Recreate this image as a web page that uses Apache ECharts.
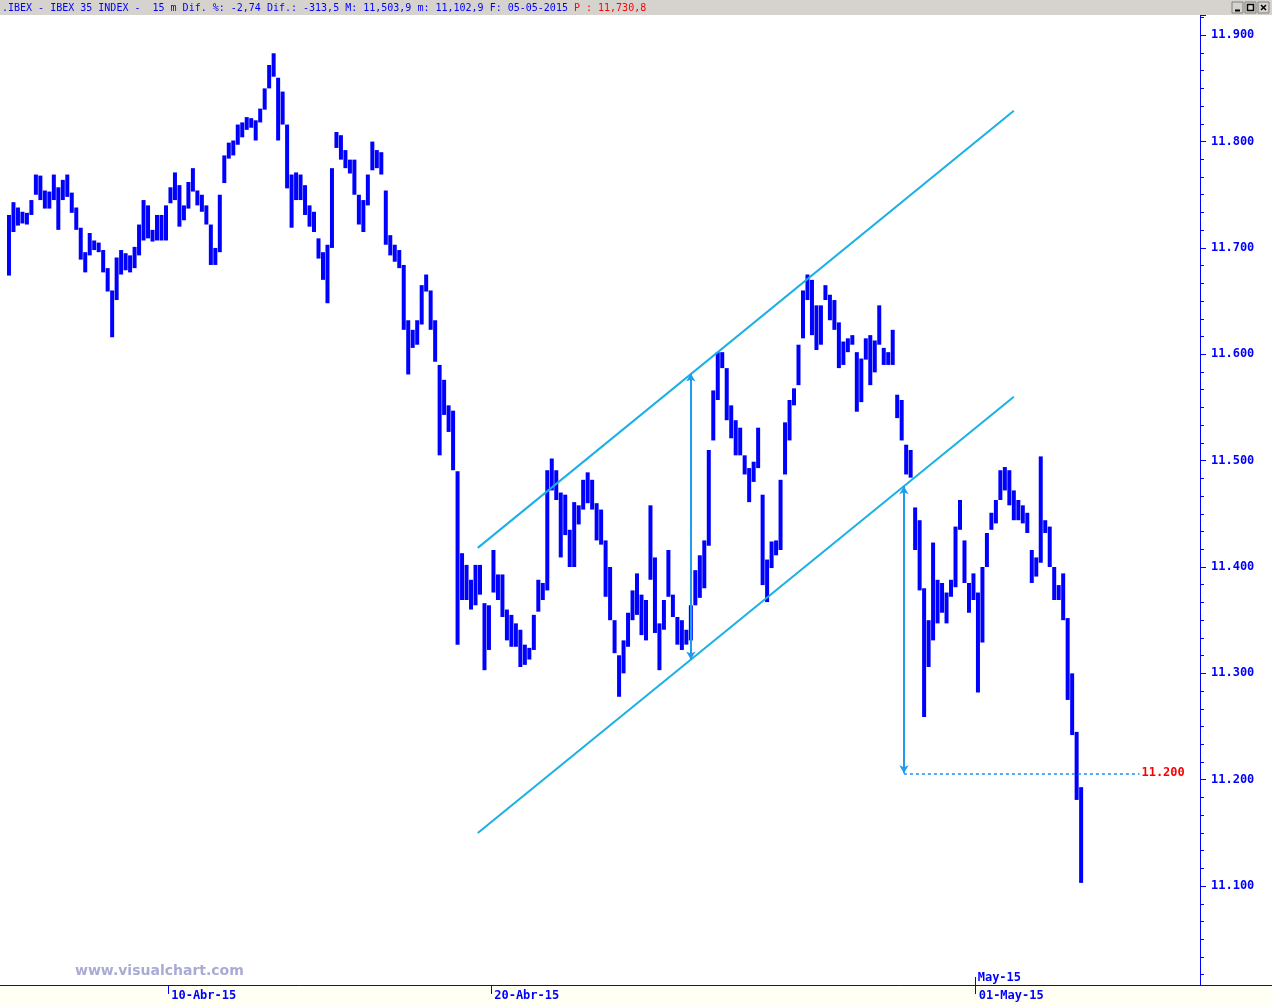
<!DOCTYPE html>
<html>
<head>
<meta charset="utf-8">
<script src="https://cdn.jsdelivr.net/npm/echarts@6/dist/echarts.min.js"></script>
<style>
html,body{margin:0;padding:0;background:#ffffff;}
#chart{width:1272px;height:1006px;}
</style>
</head>
<body>
<div id="chart"></div>
<script>
// ---- DATA ----
const days = ['07-Abr-15','08-Abr-15','09-Abr-15','10-Abr-15','13-Abr-15','14-Abr-15','15-Abr-15','16-Abr-15','17-Abr-15',
  '20-Abr-15','21-Abr-15','22-Abr-15','23-Abr-15','24-Abr-15','27-Abr-15','28-Abr-15','29-Abr-15','30-Abr-15','04-May-15','05-May-15'];
const SLOTS_PER_DAY = 12;

const highs = [
11731,11743,11738,11734,11733,11745,11769,11768,11754,11753,11769,11757,
11764,11769,11752,11738,11719,11696,11714,11707,11705,11698,11681,11660,
11691,11698,11695,11693,11701,11722,11745,11740,11717,11731,11731,11740,
11757,11771,11759,11740,11762,11775,11754,11750,11740,11722,11700,11750,
11787,11799,11801,11816,11818,11823,11822,11820,11831,11850,11872,11883,
11860,11847,11816,11769,11771,11769,11759,11740,11734,11709,11696,11703,
11775,11809,11806,11792,11783,11783,11750,11745,11769,11800,11792,11790,
11754,11712,11703,11698,11684,11632,11623,11632,11665,11675,11660,11632,
11590,11576,11552,11547,11490,11413,11402,11388,11402,11402,11366,11364,
11416,11393,11393,11360,11355,11347,11341,11327,11324,11355,11388,11385,
11491,11502,11491,11470,11468,11435,11461,11458,11482,11489,11482,11460,
11454,11425,11400,11350,11317,11331,11357,11378,11394,11374,11369,11458,
11409,11347,11369,11416,11374,11353,11350,11341,11364,11397,11411,11425,
11510,11566,11602,11602,11587,11552,11538,11531,11505,11493,11499,11531,
11468,11407,11424,11425,11482,11536,11557,11568,11609,11660,11675,11670,
11646,11646,11665,11656,11651,11630,11612,11615,11618,11602,11596,11615,
11618,11613,11646,11606,11602,11623,11562,11557,11515,11510,11456,11444,
11380,11350,11423,11388,11385,11376,11388,11438,11463,11425,11385,11394,
11376,11400,11432,11451,11463,11491,11494,11491,11472,11463,11458,11451,
11416,11409,11504,11444,11438,11400,11383,11394,11352,11300,11245,11193
];
const lows = [
11674,11715,11721,11723,11722,11731,11750,11745,11737,11737,11745,11717,
11745,11748,11733,11717,11689,11677,11693,11698,11696,11677,11659,11616,
11651,11675,11679,11677,11681,11693,11707,11709,11706,11707,11707,11707,
11742,11745,11720,11726,11737,11753,11740,11734,11722,11684,11684,11696,
11761,11784,11787,11797,11804,11811,11813,11801,11818,11830,11850,11861,
11801,11816,11756,11719,11745,11745,11731,11720,11715,11690,11670,11648,
11700,11794,11783,11775,11770,11750,11722,11715,11740,11773,11775,11769,
11703,11693,11687,11681,11623,11581,11606,11609,11628,11659,11623,11593,
11505,11543,11527,11491,11327,11369,11369,11360,11364,11374,11303,11322,
11376,11369,11353,11331,11325,11325,11306,11308,11313,11322,11358,11369,
11378,11472,11463,11409,11430,11400,11400,11440,11454,11460,11454,11425,
11421,11372,11350,11319,11278,11300,11325,11350,11355,11336,11331,11388,
11338,11303,11341,11372,11353,11327,11322,11327,11331,11364,11371,11380,
11420,11519,11557,11587,11538,11521,11505,11505,11487,11461,11480,11493,
11383,11367,11399,11411,11416,11487,11519,11552,11571,11615,11651,11618,
11604,11609,11651,11632,11623,11587,11590,11602,11609,11546,11555,11595,
11571,11583,11609,11590,11590,11590,11540,11519,11487,11484,11416,11378,
11259,11306,11331,11347,11357,11347,11372,11381,11435,11385,11357,11369,
11282,11329,11400,11435,11441,11463,11472,11458,11444,11444,11441,11432,
11385,11391,11404,11432,11400,11369,11369,11350,11275,11242,11181,11103
];

// date ticks fall on the left edge of a slot
const dateTicks = [ {slot: 36, label: '10-Abr-15'}, {slot: 108, label: '20-Abr-15'}, {slot: 216, label: '01-May-15'} ];
const monthTicks = [ {slot: 216, label: 'May-15'} ];

// channel lines: [slot, value]
const channelUpper = [[104.5, 11418], [224, 11829]];
const channelLower = [[104.5, 11150], [224, 11560]];
// projection arrows: [slot, from, to]
const projArrows = [[152, 11582, 11313], [199.5, 11476, 11206]];
// target level
const targetLevel = { fromSlot: 199.5, toSlot: 252, value: 11206, label: '11.200' };

const headerMain = '.IBEX - IBEX 35 INDEX -  15 m Dif. %: -2,74 Dif.: -313,5 M: 11,503,9 m: 11,102,9 F: 05-05-2015 ';
const headerPrev = 'P : 11,730,8';
const watermark = 'www.visualchart.com';

// ---- BUILD ----
// half-slot category grid: slot centre = 2*slot + 4, slot left edge = 2*slot + 3
const N_CATS = 536;
const cat = s => 2 * s + 4;
const edge = s => 2 * s + 3;
const categories = Array.from({length: N_CATS}, (_, i) => {
  const s = Math.floor((i - 3) / 2);
  const d = Math.floor(s / SLOTS_PER_DAY);
  return (d >= 0 && d < days.length) ? days[d] + ' #' + (i - 3) : 'p' + i;
});
const dateTickMap = new Map(dateTicks.map(t => [edge(t.slot), t.label]));
const monthTickMap = new Map(monthTicks.map(t => [edge(t.slot), t.label]));

const barData = lows.map((lo, j) => [cat(j), lo, highs[j]]);

const BLUE = '#0000ff';
const MONO = '"DejaVu Sans Mono", "Liberation Mono", monospace';

const chart = echarts.init(document.getElementById('chart'), null, {renderer: 'canvas'});

const option = {
  animation: false,
  backgroundColor: '#ffffff',
  grid: { left: 0, right: 72, top: 15, bottom: 21, containLabel: false, outerBoundsMode: 'none' },
  xAxis: [
    {
      type: 'category', data: categories, boundaryGap: false, position: 'bottom', z: 5,
      axisLine: { show: true, lineStyle: { color: BLUE, width: 1 } },
      axisTick: { show: true, length: 9, lineStyle: { color: BLUE }, interval: (i) => dateTickMap.has(i) },
      axisLabel: { show: true, interval: (i) => dateTickMap.has(i), formatter: (v, i) => dateTickMap.get(i) || '',
        color: BLUE, fontFamily: MONO, fontWeight: 'bold', fontSize: 12, align: 'left', margin: 5, padding: [0, 0, 0, 3] },
      splitLine: { show: false }
    },
    {
      type: 'category', data: categories, boundaryGap: false, position: 'bottom', z: 5,
      axisLine: { show: false },
      axisTick: { show: true, inside: true, length: 8, lineStyle: { color: BLUE }, interval: (i) => monthTickMap.has(i) },
      axisLabel: { show: true, inside: true, interval: (i) => monthTickMap.has(i), formatter: (v, i) => monthTickMap.get(i) || '',
        color: BLUE, fontFamily: MONO, fontWeight: 'bold', fontSize: 12, align: 'left', margin: 1, padding: [0, 0, 0, 2] },
      splitLine: { show: false }
    }
  ],
  yAxis: {
    type: 'value', position: 'right', min: 11007, max: 11919, splitNumber: 9, scale: true, z: 5,
    axisLine: { show: true, lineStyle: { color: BLUE, width: 1 } },
    axisTick: { show: true, length: 6, lineStyle: { color: BLUE } },
    minorTick: { show: true, splitNumber: 6, length: 4, lineStyle: { color: BLUE } },
    axisLabel: { show: true, showMinLabel: false, showMaxLabel: false, margin: 11,
      formatter: v => (v / 1000).toFixed(3), color: BLUE, fontFamily: MONO, fontWeight: 'bold', fontSize: 12 },
    splitLine: { show: false }
  },
  series: [
    {
      type: 'custom', name: 'IBEX 15m', xAxisIndex: 0,
      data: barData,
      encode: { x: 0, y: [1, 2] },
      renderItem: function (params, api) {
        const top = api.coord([api.value(0), api.value(2)]);
        const bot = api.coord([api.value(0), api.value(1)]);
        return {
          type: 'rect',
          shape: { x: top[0] - 2, y: top[1], width: 4, height: Math.max(1, bot[1] - top[1]) },
          style: { fill: BLUE }
        };
      },
      z: 2
    },
    {
      type: 'line', name: 'upper', xAxisIndex: 0, symbol: 'none', z: 3,
      data: channelUpper.map(([s, v]) => [cat(s), v]),
      lineStyle: { color: '#1ab0e6', width: 2 },
      markLine: {
        silent: true, animation: false,
        data: [
          ...projArrows.map(([s, a, b]) => [
            { coord: [cat(s), a], symbol: 'arrow', symbolSize: [7, 8], lineStyle: { color: '#1e9cf0', width: 2, type: 'solid' }, label: { show: false } },
            { coord: [cat(s), b], symbol: 'arrow', symbolSize: [7, 8] }
          ]),
          [
            { coord: [cat(targetLevel.fromSlot), targetLevel.value], symbol: 'none',
              lineStyle: { color: '#1a8cff', width: 1.5, type: [3, 3], opacity: 1 },
              label: { show: true, position: 'end', distance: 2, formatter: targetLevel.label, color: '#ff0000',
                fontFamily: MONO, fontWeight: 'bold', fontSize: 12 } },
            { coord: [cat(targetLevel.toSlot), targetLevel.value], symbol: 'none' }
          ]
        ]
      }
    },
    {
      type: 'line', name: 'lower', xAxisIndex: 0, symbol: 'none', z: 3,
      data: channelLower.map(([s, v]) => [cat(s), v]),
      lineStyle: { color: '#1ab0e6', width: 2 }
    }
  ],
  graphic: [
    { type: 'rect', z: -10, shape: { x: 0, y: 986, width: 1272, height: 20 }, style: { fill: '#fffff4' } },
    { type: 'line', z: 10, shape: { x1: 1200, y1: 985.5, x2: 1272, y2: 985.5 }, style: { stroke: BLUE, lineWidth: 1 } },
    { type: 'rect', z: 10, shape: { x: 0, y: 0, width: 1272, height: 15 }, style: { fill: '#d6d3ce' } },
    { type: 'text', z: 11, x: 2, y: 2,
      style: { text: '{m|' + headerMain + '}{p|' + headerPrev + '}',
        rich: { m: { fill: BLUE, fontFamily: MONO, fontSize: 10, lineHeight: 12 }, p: { fill: '#ff0000', fontFamily: MONO, fontSize: 10, lineHeight: 12 } } } },
    // window buttons
    { type: 'rect', z: 11, shape: { x: 1232, y: 2, width: 11, height: 11 }, style: { fill: '#d6d3ce', stroke: '#808080', lineWidth: 1 } },
    { type: 'rect', z: 11, shape: { x: 1245, y: 2, width: 11, height: 11 }, style: { fill: '#d6d3ce', stroke: '#808080', lineWidth: 1 } },
    { type: 'rect', z: 11, shape: { x: 1258, y: 2, width: 11, height: 11 }, style: { fill: '#d6d3ce', stroke: '#808080', lineWidth: 1 } },
    { type: 'line', z: 12, shape: { x1: 1235, y1: 10.5, x2: 1240, y2: 10.5 }, style: { stroke: '#000', lineWidth: 2 } },
    { type: 'rect', z: 12, shape: { x: 1247.5, y: 4.5, width: 6, height: 6 }, style: { fill: 'none', stroke: '#000', lineWidth: 1.5 } },
    { type: 'line', z: 12, shape: { x1: 1261, y1: 5, x2: 1266, y2: 10 }, style: { stroke: '#000', lineWidth: 1.5 } },
    { type: 'line', z: 12, shape: { x1: 1266, y1: 5, x2: 1261, y2: 10 }, style: { stroke: '#000', lineWidth: 1.5 } },
    { type: 'text', z: 1, x: 75, y: 964,
      style: { text: watermark, fill: '#a8acd2', fontFamily: '"DejaVu Sans", Verdana, sans-serif', fontWeight: 'bold', fontSize: 14 } }
  ]
};
chart.setOption(option);
</script>
</body>
</html>
